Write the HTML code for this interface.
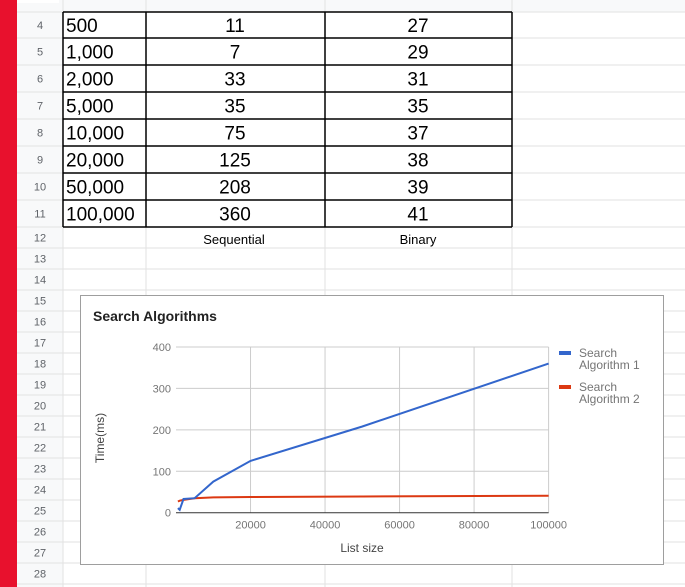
<!DOCTYPE html>
<html><head><meta charset="utf-8"><style>
body{margin:0;width:685px;height:587px;overflow:hidden;background:#fff;font-family:"Liberation Sans",Arial,sans-serif;position:relative}
.abs{position:absolute}
</style></head><body>
<svg width="685" height="587" class="abs" style="left:0;top:0">
<rect x="0" y="0" width="17" height="587" fill="#e8112d"/>
<rect x="17" y="0" width="46" height="587" fill="#f8f9fa"/>
<rect x="17" y="0" width="668" height="12" fill="#f8f9fa"/>
<rect x="17" y="0" width="42" height="3" fill="#fff"/>
<line x1="17" y1="12" x2="685" y2="12" stroke="#c0c0c0"/>
<g id="grid" stroke="#e2e2e2"></g>
<g id="rows" font-size="11" fill="#5f6368" text-anchor="middle"></g>
<g id="tbl"></g>
<text x="234" y="244" font-size="13" text-anchor="middle" fill="#000">Sequential</text>
<text x="418" y="244" font-size="13" text-anchor="middle" fill="#000">Binary</text>
</svg>

<svg width="685" height="587" class="abs" style="left:0;top:0" id="chart">
<rect x="80.5" y="295.5" width="583" height="269" fill="#fff" stroke="#9e9e9e"/>
<text x="93" y="321" font-size="14" font-weight="bold" fill="#222">Search Algorithms</text>
<g id="cgrid"></g>
<g id="clines"></g>
<text x="362" y="552" font-size="12" fill="#444" text-anchor="middle">List size</text>
<text transform="translate(104,438) rotate(-90)" font-size="12" fill="#444" text-anchor="middle">Time(ms)</text>
<rect x="559" y="351" width="12" height="4" fill="#3366cc"/>
<text x="579" y="357" font-size="12" fill="#757575"><tspan x="579">Search</tspan><tspan x="579" dy="12">Algorithm 1</tspan></text>
<rect x="559" y="385" width="12" height="4" fill="#dc3912"/>
<text x="579" y="391" font-size="12" fill="#757575"><tspan x="579">Search</tspan><tspan x="579" dy="12">Algorithm 2</tspan></text>
</svg>
<script>
const sizes=[500,1000,2000,5000,10000,20000,50000,100000];
const sizeLabels=["500","1,000","2,000","5,000","10,000","20,000","50,000","100,000"];
const sequential=[11,7,33,35,75,125,208,360];
const binary=[27,29,31,35,37,38,39,41];
const yTicks=[0,100,200,300,400];
const xTicks=[20000,40000,60000,80000,100000];
const NS="http://www.w3.org/2000/svg";
function mk(t,a,p){const e=document.createElementNS(NS,t);for(const k in a)e.setAttribute(k,a[k]);p.appendChild(e);return e;}
// spreadsheet grid
const grid=document.getElementById('grid'),rows=document.getElementById('rows'),tbl=document.getElementById('tbl');
const colX=[63,146,325,512];
colX.forEach(x=>{const l=mk('line',{x1:x,y1:0,x2:x,y2:587},grid);

});
let rowY=[12,38,65,92,119,146,173,200,227,248];
for(let y=269;y<600;y+=21)rowY.push(y);
rowY.forEach(y=>{const l=mk('line',{x1:17,y1:y,x2:685,y2:y},grid);

});
for(let i=0;i<rowY.length-1;i++){const t=mk('text',{x:40,y:(rowY[i]+rowY[i+1])/2+4},rows);t.textContent=String(i+4);

}
for(let i=0;i<sizes.length;i++){
 const y0=rowY[i],y1=rowY[i+1],cy=(y0+y1)/2+7;
 const a=mk('text',{x:66,y:cy,'font-size':19,fill:'#000'},tbl);a.textContent=sizeLabels[i];
 
 
 const b=mk('text',{x:235,y:cy,'font-size':19,fill:'#000','text-anchor':'middle'},tbl);b.textContent=sequential[i];
 
 
 const c=mk('text',{x:418,y:cy,'font-size':19,fill:'#000','text-anchor':'middle'},tbl);c.textContent=binary[i];
 
 
}
for(let i=0;i<=sizes.length;i++)mk('line',{x1:63,y1:rowY[i],x2:512,y2:rowY[i],stroke:'#000','stroke-width':1.5},tbl);
colX.forEach(x=>mk('line',{x1:x,y1:12,x2:x,y2:227,stroke:'#000','stroke-width':1.5},tbl));
// chart
const X0=176,X1=548.6,Y0=512.7,Y1=347;
const sx=v=>X0+(X1-X0)*v/100000, sy=v=>Y0-(Y0-Y1)*v/400;
const cg=document.getElementById('cgrid'),cl=document.getElementById('clines');
yTicks.forEach(v=>{if(v>0){const l=mk('line',{x1:X0,y1:sy(v),x2:X1,y2:sy(v),stroke:'#cccccc'},cg);

}
 const t=mk('text',{x:X0-5,y:sy(v)+4,'font-size':11,fill:'#757575','text-anchor':'end'},cg);t.textContent=v;
 
 });
xTicks.forEach(v=>{const l=mk('line',{x1:sx(v),y1:Y1,x2:sx(v),y2:Y0,stroke:'#cccccc'},cg);
 
 
 const t=mk('text',{x:sx(v),y:Y0+16,'font-size':11,fill:'#757575','text-anchor':'middle'},cg);t.textContent=v;
 
 });
const ax=mk('line',{x1:X0,y1:Y0,x2:X1,y2:Y0,stroke:'#333'},cg);


function series(vals,col,name){const d=sizes.map((s,i)=>(i?'L':'M')+sx(s).toFixed(1)+' '+sy(vals[i]).toFixed(1)).join(' ');
 const p=mk('path',{d:d,fill:'none',stroke:col,'stroke-width':2},cl);
 
 }
series(binary,'#dc3912','line-search-algorithm-2');
series(sequential,'#3366cc','line-search-algorithm-1');
</script>
</body></html>
